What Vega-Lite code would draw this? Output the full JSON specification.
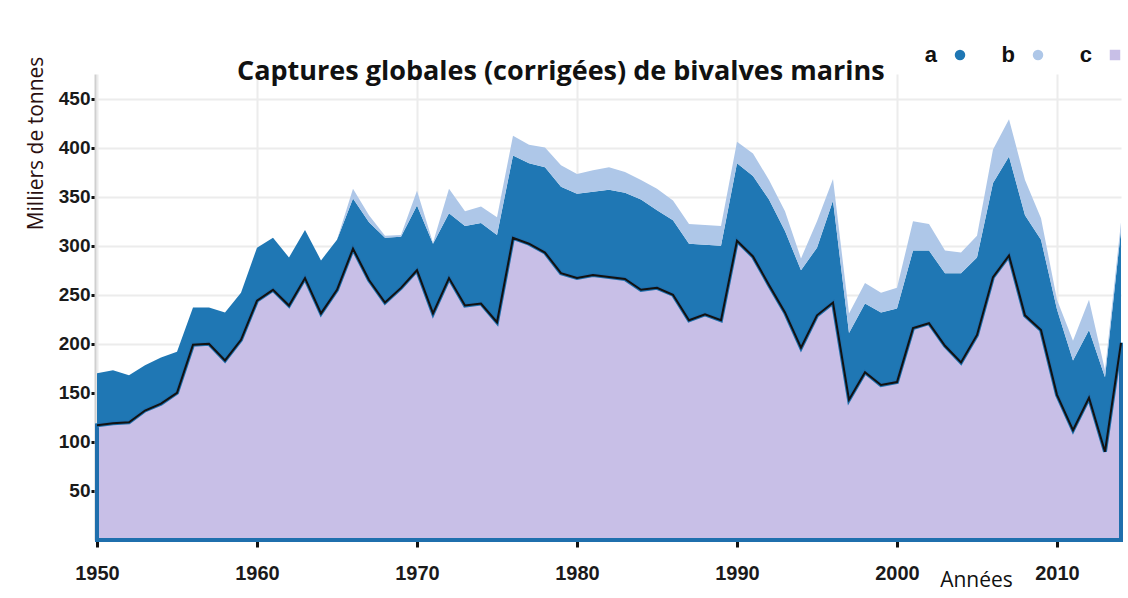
{
  "$schema": "https://vega.github.io/schema/vega-lite/v6.json",
  "width": 1024,
  "height": 466,
  "autosize": "none",
  "padding": {"left": 97, "top": 74, "right": 7, "bottom": 58},
  "background": "white",
  "config": {"view": {"stroke": null}},
  "title": {
    "text": "Captures globales (corrigées) de bivalves marins",
    "font": "Open Sans",
    "fontSize": 27,
    "fontWeight": "bold",
    "color": "#111111",
    "anchor": "start",
    "frame": "group",
    "dx": 140,
    "dy": 58,
    "offset": 3,
    "baseline": "middle"
  },
  "data": {
    "values": [
      {"year": 1950, "c": 117, "a": 53, "b": 0},
      {"year": 1951, "c": 119, "a": 54, "b": 0},
      {"year": 1952, "c": 120, "a": 48, "b": 0},
      {"year": 1953, "c": 132, "a": 46, "b": 0},
      {"year": 1954, "c": 139, "a": 47, "b": 0},
      {"year": 1955, "c": 150, "a": 42, "b": 0},
      {"year": 1956, "c": 199, "a": 38, "b": 0},
      {"year": 1957, "c": 200, "a": 37, "b": 0},
      {"year": 1958, "c": 183, "a": 49, "b": 0},
      {"year": 1959, "c": 204, "a": 48, "b": 0},
      {"year": 1960, "c": 244, "a": 54, "b": 0},
      {"year": 1961, "c": 255, "a": 53, "b": 0},
      {"year": 1962, "c": 239, "a": 49, "b": 0},
      {"year": 1963, "c": 267, "a": 49, "b": 0},
      {"year": 1964, "c": 231, "a": 54, "b": 0},
      {"year": 1965, "c": 255, "a": 51, "b": 0},
      {"year": 1966, "c": 297, "a": 51, "b": 10},
      {"year": 1967, "c": 265, "a": 59, "b": 7},
      {"year": 1968, "c": 242, "a": 66, "b": 2},
      {"year": 1969, "c": 257, "a": 52, "b": 2},
      {"year": 1970, "c": 275, "a": 66, "b": 15},
      {"year": 1971, "c": 231, "a": 71, "b": 1},
      {"year": 1972, "c": 267, "a": 66, "b": 25},
      {"year": 1973, "c": 239, "a": 81, "b": 15},
      {"year": 1974, "c": 241, "a": 82, "b": 17},
      {"year": 1975, "c": 222, "a": 89, "b": 18},
      {"year": 1976, "c": 308, "a": 84, "b": 20},
      {"year": 1977, "c": 302, "a": 82, "b": 19},
      {"year": 1978, "c": 293, "a": 87, "b": 20},
      {"year": 1979, "c": 272, "a": 88, "b": 22},
      {"year": 1980, "c": 267, "a": 86, "b": 20},
      {"year": 1981, "c": 270, "a": 85, "b": 22},
      {"year": 1982, "c": 268, "a": 89, "b": 23},
      {"year": 1983, "c": 266, "a": 88, "b": 21},
      {"year": 1984, "c": 255, "a": 92, "b": 20},
      {"year": 1985, "c": 257, "a": 79, "b": 22},
      {"year": 1986, "c": 250, "a": 76, "b": 20},
      {"year": 1987, "c": 224, "a": 78, "b": 20},
      {"year": 1988, "c": 230, "a": 71, "b": 20},
      {"year": 1989, "c": 224, "a": 76, "b": 20},
      {"year": 1990, "c": 305, "a": 79, "b": 22},
      {"year": 1991, "c": 289, "a": 82, "b": 23},
      {"year": 1992, "c": 260, "a": 87, "b": 20},
      {"year": 1993, "c": 232, "a": 83, "b": 20},
      {"year": 1994, "c": 196, "a": 79, "b": 12},
      {"year": 1995, "c": 229, "a": 69, "b": 27},
      {"year": 1996, "c": 242, "a": 104, "b": 22},
      {"year": 1997, "c": 143, "a": 68, "b": 20},
      {"year": 1998, "c": 171, "a": 70, "b": 21},
      {"year": 1999, "c": 158, "a": 74, "b": 20},
      {"year": 2000, "c": 161, "a": 75, "b": 21},
      {"year": 2001, "c": 216, "a": 79, "b": 30},
      {"year": 2002, "c": 221, "a": 74, "b": 27},
      {"year": 2003, "c": 198, "a": 74, "b": 23},
      {"year": 2004, "c": 181, "a": 91, "b": 21},
      {"year": 2005, "c": 209, "a": 79, "b": 22},
      {"year": 2006, "c": 268, "a": 96, "b": 34},
      {"year": 2007, "c": 290, "a": 101, "b": 38},
      {"year": 2008, "c": 229, "a": 102, "b": 36},
      {"year": 2009, "c": 214, "a": 92, "b": 22},
      {"year": 2010, "c": 148, "a": 87, "b": 10},
      {"year": 2011, "c": 112, "a": 71, "b": 20},
      {"year": 2012, "c": 145, "a": 69, "b": 31},
      {"year": 2013, "c": 90, "a": 76, "b": 7},
      {"year": 2014, "c": 201, "a": 115, "b": 8}
    ]
  },
  "encoding": {
    "x": {
      "field": "year",
      "type": "quantitative",
      "scale": {"domain": [1950, 2014], "nice": false, "zero": false},
      "axis": {
        "values": [1950, 1960, 1970, 1980, 1990, 2000, 2010],
        "format": "d",
        "title": "Années",
        "titleFont": "Open Sans",
        "titleFontSize": 21,
        "titleFontWeight": "normal",
        "titleColor": "#111111",
        "titleX": 879,
        "titleY": 40,
        "titleAlign": "center",
        "titleBaseline": "middle",
        "labelFont": "Liberation Sans",
        "labelFontSize": 20,
        "labelFontWeight": "bold",
        "labelColor": "#1a1a1a",
        "labelPadding": 16,
        "labelFlush": false,
        "domain": false,
        "tickSize": 7,
        "tickWidth": 3,
        "tickColor": "#111111",
        "grid": true,
        "gridColor": "#ececec",
        "gridWidth": 2
      }
    }
  },
  "layer": [
    {
      "transform": [
        {"fold": ["a", "b", "c"], "as": ["serie", "value"]},
        {"calculate": "indexof(['c','a','b'], datum.serie)", "as": "rang"}
      ],
      "mark": {"type": "area", "interpolate": "linear"},
      "encoding": {
        "y": {
          "field": "value",
          "type": "quantitative",
          "stack": "zero",
          "scale": {"domain": [0, 475], "nice": false},
          "axis": {
            "values": [50, 100, 150, 200, 250, 300, 350, 400, 450],
            "title": "Milliers de tonnes",
            "titleFont": "Open Sans",
            "titleFontSize": 21,
            "titleFontWeight": "normal",
            "titleColor": "#2b1010",
            "titleX": -59,
            "titleY": 69,
            "titleAlign": "center",
            "titleBaseline": "middle",
            "labelFont": "Liberation Sans",
            "labelFontSize": 19,
            "labelFontWeight": "bold",
            "labelColor": "#1a1a1a",
            "labelPadding": 1,
            "tickSize": 4,
            "tickWidth": 3,
            "tickColor": "#111111",
            "domain": true,
            "domainColor": "#cfcfcf",
            "domainWidth": 2,
            "offset": 2,
            "grid": true,
            "gridColor": "#ececec",
            "gridWidth": 2
          }
        },
        "color": {
          "field": "serie",
          "type": "nominal",
          "scale": {"domain": ["a", "b", "c"], "range": ["#1f77b4", "#aec7e8", "#c8bfe7"]},
          "legend": {
            "orient": "none",
            "legendX": 852,
            "legendY": -30,
            "direction": "horizontal",
            "title": null,
            "labelFont": "Liberation Sans",
            "labelFontSize": 22,
            "labelFontWeight": "bold",
            "labelColor": "#111111",
            "labelAlign": "right",
            "labelOffset": -34,
            "symbolSize": 110,
            "symbolType": "circle",
            "symbolStrokeWidth": 0,
            "columnPadding": 35,
            "encode": {"symbols": {"update": {"shape": {"signal": "datum.value === 'c' ? 'square' : 'circle'"}}}}
          }
        },
        "order": {"field": "rang", "type": "quantitative"}
      }
    },
    {
      "mark": {"type": "area", "fill": "#c8bfe7", "stroke": "#1f6fad", "strokeWidth": 4},
      "encoding": {"y": {"field": "c", "type": "quantitative", "title": "Milliers de tonnes"}}
    },
    {
      "mark": {"type": "line", "color": "#111111", "strokeWidth": 2},
      "encoding": {"y": {"field": "c", "type": "quantitative", "title": "Milliers de tonnes"}}
    }
  ]
}
